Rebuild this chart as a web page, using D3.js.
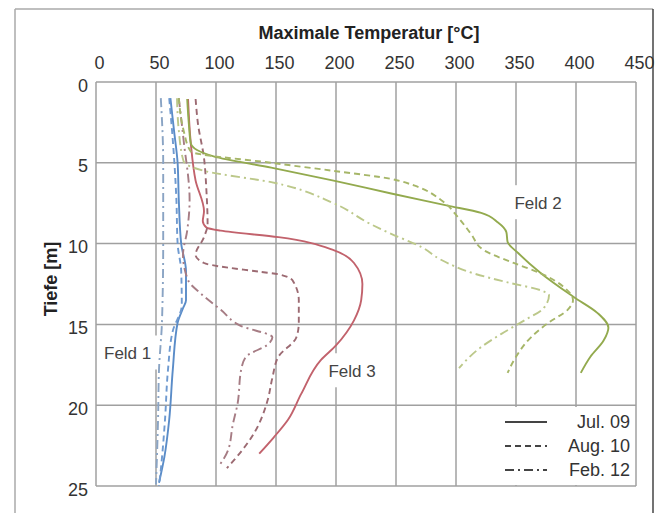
<!DOCTYPE html>
<html lang="de">
<head>
    <meta charset="utf-8">
    <title>Maximale Temperatur</title>
    <style>
        body { margin: 0; background: #fff; }
        svg { display: block; font-family: "Liberation Sans", Arial, sans-serif; }
        .axis text { font-size: 18px; fill: #333; }
        .axis path { display: none; }
    </style>
    <script src="https://d3js.org/d3.v7.min.js"></script>
</head>
<body>
<svg></svg>
<script>
    const width = 662;
    const height = 513;

    // ticks
    const xTicks = [0, 50, 100, 150, 200, 250, 300, 350, 400, 450];
    const yTicks = [0, 5, 10, 15, 20, 25];

    // [temperature °C, depth m]
    const feld1Jul09 = [[62,1],[65,3],[68,5],[69,7.3],[71,10],[75,11.7],[75,13.5],[72.5,14],[68,14.9],[64,17.8],[61,20.9],[57,23.2],[52.5,24.8]];
    const feld1Aug10 = [[61,1],[64,3.6],[67,7.3],[68,10],[71,11.7],[71.5,13.8],[64,15.4],[60,17.8],[57.5,20.9],[54,24],[52.5,25]];
    const feld1Feb12 = [[54,1],[56,5],[56,10],[55,14.8],[52.5,17.8],[51.7,20.9],[50,24.9]];

    const feld2Jul09 = [[76,1.05],[77.5,2.7],[79,3.8],[98,4.6],[146,5.3],[198,6.1],[246,6.9],[293,7.65],[321,8.1],[335,8.7],[342,9.3],[343,9.9],[352,10.6],[371,11.85],[398,13.3],[418,14.3],[427,15.2],[423,16],[412,17],[404,18]];
    const feld2Aug10 = [[69,1],[73,3],[79,4.3],[146,5],[198,5.5],[246,6],[265,6.4],[287.5,7.3],[302,8.4],[312.5,9.4],[323,10.4],[348,11.2],[371,11.85],[390,12.7],[397.5,13.5],[393,14.1],[377,14.9],[362.5,15.8],[350,17],[343,18]];
    const feld2Feb12 = [[67.5,1],[69,3],[73,4.9],[90,5.5],[146,6.2],[198,7.5],[229,8.8],[246,9.4],[271,10.2],[287.5,11],[315,11.85],[343,12.4],[371,12.9],[377.5,13.2],[373,14],[357,14.75],[337.5,15.6],[321,16.4],[302.5,17.7]];

    const feld3Jul09 = [[76.7,1.05],[79,3.8],[83,6.1],[90,8],[89,8.6],[92,9],[104,9.2],[152,9.6],[198,10.4],[215,11.2],[222,12.5],[221,13.5],[215,14.75],[200,16.3],[187.5,17.2],[171,19.3],[160,20.9],[148,22],[136,23]];
    const feld3Aug10 = [[83,1.05],[85,2.6],[90,4.7],[92,6.7],[93,8.8],[90,9.6],[83,10.7],[90,11.2],[137,11.75],[152,11.9],[164,12.3],[169,13.5],[169,14.9],[167,15.8],[152,17],[147,18.3],[143,19.7],[132,21.7],[115,23.4],[109,23.9]];
    const feld3Feb12 = [[69,1],[73,3.6],[78,7.3],[76,9.2],[72.5,10.7],[77,12.3],[87.5,13.1],[104,14.1],[121,15.1],[147,15.8],[144,16.2],[125,17],[121,17.8],[118,19.9],[114,21.2],[110,22.8],[102,23.8]];

    const legendLabels = ['Jul. 09', 'Aug. 10', 'Feb. 12'];
    const dashes = ['none', '6,4', '9,4,2,4'];

    const series = [
        {data: feld1Jul09, color: '#5a8cc8', style: 0},
        {data: feld1Aug10, color: '#6f9ad0', style: 1},
        {data: feld1Feb12, color: '#8aa4c4', style: 2},
        {data: feld3Jul09, color: '#c2626c', style: 0},
        {data: feld3Aug10, color: '#9c6a72', style: 1},
        {data: feld3Feb12, color: '#a67c84', style: 2},
        {data: feld2Jul09, color: '#93aa4e', style: 0},
        {data: feld2Aug10, color: '#a6b668', style: 1},
        {data: feld2Feb12, color: '#bcc88a', style: 2}
    ];

    const svg = d3.select('svg').attr('width', width).attr('height', height);

    const x = d3.scaleLinear().domain([0, 450]).range([96, 636]);
    const y = d3.scaleLinear().domain([0, 25]).range([82, 486]);

    // outer frame
    svg.append('line').attr('x1', 15).attr('x2', 653).attr('y1', 9).attr('y2', 9)
        .attr('stroke', '#aaa').attr('stroke-width', 1.5);
    svg.append('line').attr('x1', 15).attr('x2', 15).attr('y1', 9).attr('y2', height)
        .attr('stroke', '#aaa').attr('stroke-width', 1.5);
    svg.append('line').attr('x1', 653).attr('x2', 653).attr('y1', 9).attr('y2', height)
        .attr('stroke', '#444').attr('stroke-width', 1.5);

    // grid
    const grid = svg.append('g').attr('stroke', '#a0a0a0').attr('stroke-width', 1.5);
    grid.selectAll('.vx').data(xTicks).enter().append('line')
        .attr('x1', d => x(d)).attr('x2', d => x(d))
        .attr('y1', y(0)).attr('y2', y(25));
    grid.selectAll('.hy').data(yTicks).enter().append('line')
        .attr('x1', x(0)).attr('x2', x(450))
        .attr('y1', d => y(d)).attr('y2', d => y(d));

    // white boxes behind field labels and legend
    const fieldLabels = [
        {text: 'Feld 1', t: 5, d: 16.8},
        {text: 'Feld 2', t: 347, d: 7.5},
        {text: 'Feld 3', t: 192, d: 17.9}
    ];
    const boxes = svg.append('g');
    boxes.selectAll('rect').data(fieldLabels).enter().append('rect')
        .attr('x', d => x(d.t) - 3).attr('y', d => y(d.d) - 18)
        .attr('width', 58).attr('height', 34).attr('fill', '#fff');
    boxes.append('rect').attr('x', 486).attr('y', 407).attr('width', 148).attr('height', 78).attr('fill', '#fff');

    // axes
    svg.append('g').attr('class', 'axis')
        .attr('transform', `translate(0,${y(0)})`)
        .call(d3.axisTop(x).tickValues(xTicks).tickSize(0).tickPadding(13))
        .selectAll('text').attr('dx', 3);
    svg.append('g').attr('class', 'axis')
        .attr('transform', `translate(${x(0)},0)`)
        .call(d3.axisLeft(y).tickValues(yTicks).tickSize(0).tickPadding(8))
        .selectAll('text').attr('dy', '0.5em');

    svg.append('text').attr('x', (x(0) + x(450)) / 2 + 3).attr('y', 39)
        .attr('text-anchor', 'middle').attr('font-weight', 'bold').attr('font-size', 18)
        .attr('fill', '#222').text('Maximale Temperatur [°C]');
    svg.append('text').attr('transform', `translate(57,${(y(0) + y(25)) / 2 - 5}) rotate(-90)`)
        .attr('text-anchor', 'middle').attr('font-weight', 'bold').attr('font-size', 18)
        .attr('fill', '#222').text('Tiefe [m]');

    // curves
    const line = d3.line()
        .x(d => x(d[0]))
        .y(d => y(d[1]))
        .curve(d3.curveMonotoneY);

    svg.append('g').selectAll('path').data(series).enter().append('path')
        .attr('d', d => line(d.data))
        .attr('fill', 'none')
        .attr('stroke', d => d.color)
        .attr('stroke-width', 1.9)
        .attr('stroke-dasharray', d => dashes[d.style]);

    // field labels
    svg.append('g').selectAll('text').data(fieldLabels).enter().append('text')
        .attr('x', d => x(d.t) + 2).attr('y', d => y(d.d) + 6)
        .attr('font-size', 17).attr('fill', '#444').text(d => d.text);

    // legend
    const legend = svg.append('g').selectAll('g').data(legendLabels).enter().append('g')
        .attr('transform', (d, i) => `translate(0,${422 + i * 24})`);
    legend.append('line').attr('x1', 505).attr('x2', 547).attr('y1', 0).attr('y2', 0)
        .attr('stroke', '#444').attr('stroke-width', 2)
        .attr('stroke-dasharray', (d, i) => dashes[i]);
    legend.append('text').attr('x', 630).attr('y', 6).attr('text-anchor', 'end')
        .attr('font-size', 18).attr('fill', '#333').text(d => d);
</script>
</body>
</html>
